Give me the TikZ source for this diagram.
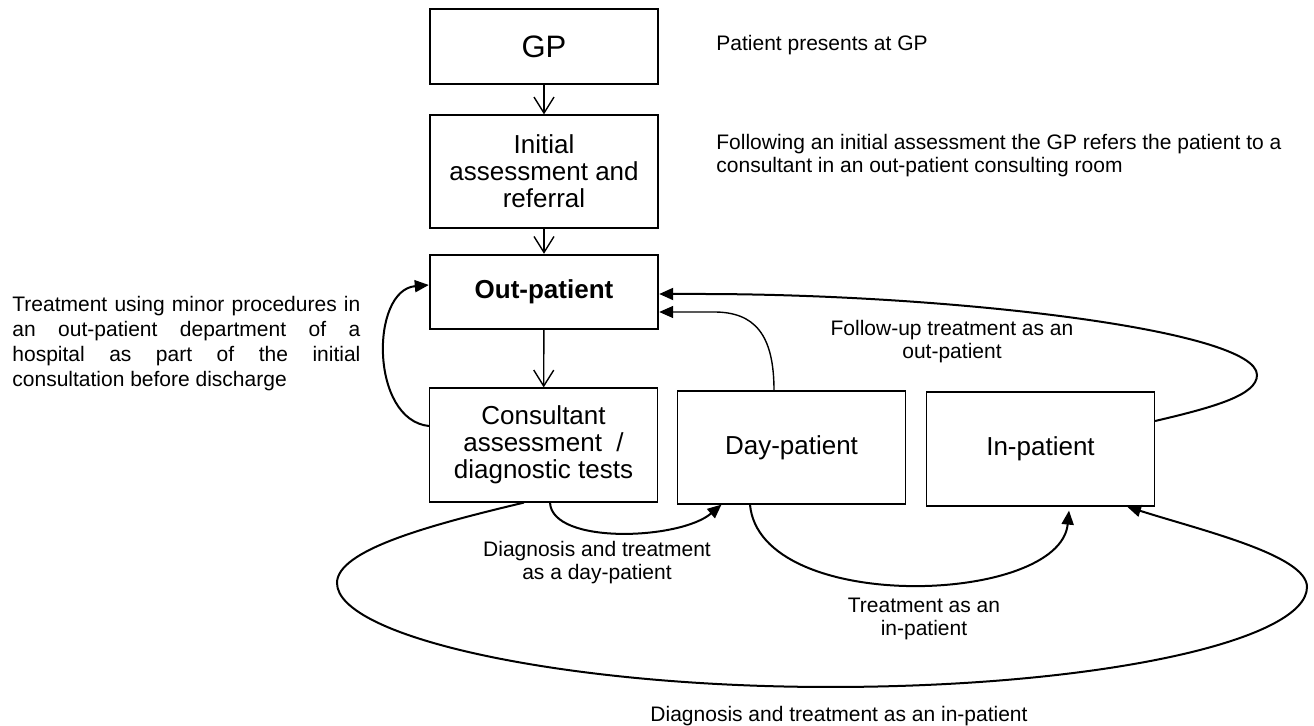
\documentclass[tikz,border=0pt]{standalone}
\usepackage{fontspec}
\setmainfont{Liberation Sans}
\usetikzlibrary{arrows.meta}
\begin{document}
\begin{tikzpicture}[x=0.5pt,y=-0.5pt,
  box/.style={draw,line width=0.6pt,minimum width=114pt,align=center,inner sep=0pt,
    font=\fontsize{13}{13.5}\selectfont},
  lab/.style={inner sep=0pt,font=\fontsize{10.5}{11.5}\selectfont},
  vv/.style={line width=0.7pt,-{Straight Barb[length=8pt,width=10pt]}},
  thinarr/.style={line width=0.7pt,-{Triangle[length=7pt,width=6pt]}},
  thickarr/.style={line width=1pt,-{Triangle[length=7pt,width=6pt]}}]
\useasboundingbox (0,0) rectangle (1314,726);
% boxes
\node[box,minimum height=37.5pt,font=\fontsize{15.5}{16}\selectfont] (gp) at (544,46.5) {GP};
\node[box,minimum height=56.5pt] (init) at (544,171.5) {Initial\\assessment and\\referral};
\node[box,minimum height=37pt,line width=1.2pt,font=\bfseries\fontsize{13}{13.5}\selectfont] (out) at (544,292) {Out-patient};
\node[box,minimum height=57pt] (cons) at (543.5,445) {Consultant\\assessment\ \ /\\diagnostic tests};
\node[box,minimum height=56.5pt] (day) at (791.5,447.5) {Day-patient};
\node[box,minimum height=57pt] (inp) at (1040.5,449) {In-patient};
% vertical arrows
\draw[vv] (gp) -- (init);
\draw[vv] (init) -- (out);
\draw[vv] (out) -- (cons);
% left loop
\draw[thickarr] ([yshift=9.5pt]cons.west) .. controls (370,420) and (370,290) .. ([yshift=3.5pt]out.west);
% day-patient back to out-patient
\draw[thinarr] ([xshift=-8.75pt]day.north) .. controls (774,335) and (755,312) .. (714,312) -- ([yshift=-10pt]out.east);
% follow-up loop
\draw[thickarr] ([yshift=14pt]inp.east) .. controls (1215,407) and (1257,395) .. (1257,375)
  .. controls (1257,330) and (950,294) .. (700,294) -- ([yshift=-1pt]out.east);
% consultant -> day
\draw[thickarr] ([xshift=3.25pt]cons.south) .. controls (552,545) and (680,540) .. ([xshift=-35pt]day.south);
% day -> in
\draw[thickarr] ([xshift=-20.75pt]day.south) .. controls (760,615) and (1060,605) .. ([xshift=14.25pt,yshift=-2pt]inp.south);
% big ellipse consultant -> in
\draw[thickarr] ([xshift=-9.75pt]cons.south) .. controls (430,525) and (337,550) .. (337,583)
  .. controls (337,637) and (562,687) .. (830,687)
  .. controls (1098,687) and (1307,641) .. (1307,587)
  .. controls (1307,555) and (1200,530) .. ([xshift=43.25pt]inp.south);
% labels
\node[lab,anchor=west] (l1) at (716,45) {Patient presents at GP};
\node[lab,anchor=north west,align=left] (l2) at (716,134) {Following an initial assessment the GP refers the patient to a\\consultant in an out-patient consulting room};
\node[lab,anchor=north west,text width=174pt,align=justify,font=\fontsize{10.5}{12.5}\selectfont] (l3) at (12,296) {\tolerance=10000\hbadness=10000 Treatment using minor procedures in\linebreak an out-patient department of a\linebreak hospital as part of the initial\linebreak consultation before discharge};
\node[lab,align=center] (l4) at (952,342) {Follow-up treatment as an\\out-patient};
\node[lab,align=center] (l5) at (597,563) {Diagnosis and treatment\\as a day-patient};
\node[lab,align=center] (l6) at (924,619) {Treatment as an\\in-patient};
\node[lab] (l7) at (839,716) {Diagnosis and treatment as an in-patient};
\end{tikzpicture}
\end{document}
